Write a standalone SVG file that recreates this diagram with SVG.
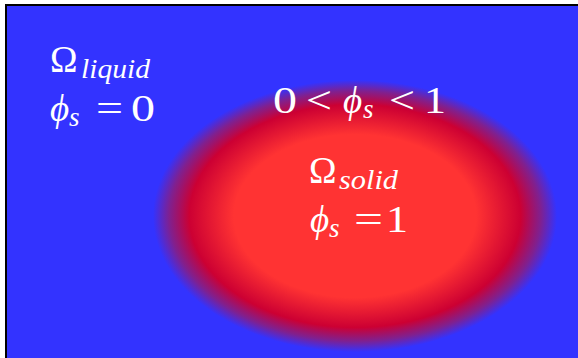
<svg xmlns="http://www.w3.org/2000/svg" width="578" height="358" viewBox="0 0 578 358">
<defs>
<radialGradient id="phase" cx="0.5" cy="0.5" r="0.5">
<stop offset="0" stop-color="#ff3333"/>
<stop offset="0.6" stop-color="#ff3333"/>
<stop offset="0.82" stop-color="#cc0033"/>
<stop offset="0.92" stop-color="#80208f"/>
<stop offset="1" stop-color="#3333ff"/>
</radialGradient>
</defs>
<style>
.t{fill:#ffffff;font-size:37px}
.it{font-style:italic}
.sub{font-style:italic;font-size:27px}
</style>
<rect x="0" y="0" width="578" height="358" fill="#ffffff"/>
<g id="domain">
<rect x="6" y="5" width="580" height="360" fill="#3333ff" stroke="#000000" stroke-width="2"/>
<ellipse cx="355" cy="216" rx="202" ry="136" fill="url(#phase)"/>
</g>
<g font-family="Liberation Serif, serif">
<g id="liquid-label">
<text class="t" x="50" y="72">Ω</text>
<text class="t sub" x="81" y="78" textLength="69" lengthAdjust="spacingAndGlyphs">liquid</text>
<text class="t it" x="50" y="121">ϕ</text>
<text class="t sub" x="69" y="126">s</text>
<text class="t" x="96" y="121" textLength="27" lengthAdjust="spacingAndGlyphs">=</text>
<text class="t" x="131" y="121" textLength="24" lengthAdjust="spacingAndGlyphs">0</text>
</g>
<g id="interface-label">
<text class="t" x="273" y="113" textLength="24" lengthAdjust="spacingAndGlyphs">0</text>
<text class="t" x="306" y="113" textLength="26" lengthAdjust="spacingAndGlyphs">&lt;</text>
<text class="t it" x="343" y="113">ϕ</text>
<text class="t sub" x="363" y="118">s</text>
<text class="t" x="389" y="113" textLength="26" lengthAdjust="spacingAndGlyphs">&lt;</text>
<text class="t" x="424" y="113" textLength="22" lengthAdjust="spacingAndGlyphs">1</text>
</g>
<g id="solid-label">
<text class="t" x="309" y="183">Ω</text>
<text class="t sub" x="339" y="189" textLength="59" lengthAdjust="spacingAndGlyphs">solid</text>
<text class="t it" x="310" y="232">ϕ</text>
<text class="t sub" x="329" y="237">s</text>
<text class="t" x="354" y="232" textLength="29" lengthAdjust="spacingAndGlyphs">=</text>
<text class="t" x="386" y="232" textLength="22" lengthAdjust="spacingAndGlyphs">1</text>
</g>
</g>
</svg>
